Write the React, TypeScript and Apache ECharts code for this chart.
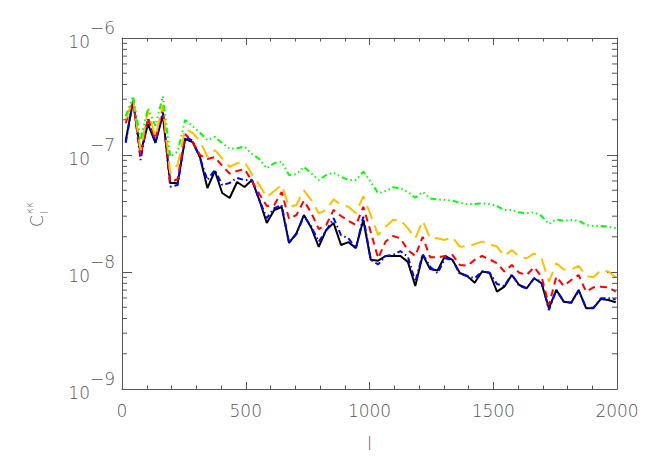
import React, { useEffect, useRef } from "react";
import * as echarts from "echarts";

// multipole bin centres
const ells = [
  15, 45, 75, 105, 135, 165, 195, 225, 255, 285, 315, 345, 375, 405, 435, 465, 495,
  525, 555, 585, 615, 645, 675, 705, 735, 765, 795, 825, 855, 885, 915, 945, 975,
  1005, 1035, 1065, 1095, 1125, 1155, 1185, 1215, 1245, 1275, 1305, 1335, 1365, 1395,
  1425, 1455, 1485, 1515, 1545, 1575, 1605, 1635, 1665, 1695, 1725, 1755, 1785, 1815,
  1845, 1875, 1905, 1935, 1965, 1995,
];

const blackSolid = [
  1.32e-7, 2.91e-7, 1.04e-7, 1.84e-7, 1.27e-7, 2.2e-7, 5.77e-8, 5.77e-8, 1.37e-7, 1.29e-7,
  9.61e-8, 5.22e-8, 7.3e-8, 4.73e-8, 4.29e-8, 5.88e-8, 5.33e-8, 6.11e-8, 4.12e-8, 2.62e-8,
  3.39e-8, 3.59e-8, 1.77e-8, 2.15e-8, 3.07e-8, 2.38e-8, 1.64e-8, 2.29e-8, 2.62e-8, 1.7e-8,
  1.8e-8, 1.6e-8, 2.78e-8, 1.27e-8, 1.25e-8, 1.37e-8, 1.37e-8, 1.37e-8, 1.22e-8, 7.59e-9,
  1.4e-8, 1.06e-8, 1.03e-8, 1.37e-8, 1.27e-8, 9.8e-9, 9.24e-9, 8.1e-9, 1.01e-8, 9.86e-9,
  6.79e-9, 7.49e-9, 9.43e-9, 7.74e-9, 7.26e-9, 8.84e-9, 8.01e-9, 4.9e-9, 7.02e-9, 5.58e-9,
  5.47e-9, 7.02e-9, 4.9e-9, 4.9e-9, 5.88e-9, 5.77e-9, 5.51e-9,
];

const blueDashDot = [
  1.27e-7, 2.95e-7, 9.06e-8, 2.07e-7, 1.27e-7, 2.33e-7, 5.36e-8, 5.54e-8, 1.43e-7, 1.33e-7,
  9.43e-8, 6.11e-8, 7.44e-8, 5.54e-8, 5.77e-8, 6.36e-8, 6.11e-8, 6.11e-8, 4.12e-8, 2.89e-8,
  3.52e-8, 3.74e-8, 1.78e-8, 2.11e-8, 3.01e-8, 2.44e-8, 1.82e-8, 2.25e-8, 2.88e-8, 2.07e-8,
  1.94e-8, 1.59e-8, 2.97e-8, 1.27e-8, 1.16e-8, 1.37e-8, 1.4e-8, 1.51e-8, 1.35e-8, 8.26e-9,
  1.42e-8, 1.11e-8, 9.75e-9, 1.31e-8, 1.27e-8, 9.61e-9, 9.24e-9, 8.84e-9, 1.01e-8, 9.86e-9,
  7.9e-9, 7.59e-9, 9.56e-9, 7.59e-9, 7.26e-9, 8.84e-9, 8.26e-9, 4.73e-9, 7.02e-9, 5.58e-9,
  5.47e-9, 6.88e-9, 4.95e-9, 4.95e-9, 5.96e-9, 5.96e-9, 5.85e-9,
];

const redDashed = [
  1.87e-7, 2.91e-7, 9.8e-8, 2.09e-7, 1.37e-7, 2.52e-7, 5.83e-8, 6.23e-8, 1.51e-7, 1.3e-7,
  1.0e-7, 9.24e-8, 9.61e-8, 8.05e-8, 6.95e-8, 7.3e-8, 7.59e-8, 5.99e-8, 4.64e-8, 3.66e-8,
  3.74e-8, 4.83e-8, 2.84e-8, 3.07e-8, 4.07e-8, 3.19e-8, 2.33e-8, 2.52e-8, 3.39e-8, 3.01e-8,
  2.74e-8, 2.52e-8, 3.61e-8, 2.2e-8, 1.31e-8, 1.82e-8, 2.03e-8, 1.94e-8, 1.54e-8, 1.37e-8,
  2.0e-8, 1.34e-8, 1.33e-8, 1.37e-8, 1.4e-8, 1.15e-8, 1.13e-8, 1.27e-8, 1.37e-8, 1.28e-8,
  1.19e-8, 1.01e-8, 1.15e-8, 9.86e-9, 9.43e-9, 1.1e-8, 9.12e-9, 5.22e-9, 9.12e-9, 7.59e-9,
  8.54e-9, 9.43e-9, 6.79e-9, 7.4e-9, 7.49e-9, 7.4e-9, 6.79e-9,
];

const orangeLongDash = [
  1.99e-7, 3.01e-7, 1.1e-7, 2.41e-7, 1.43e-7, 2.68e-7, 6.98e-8, 8.28e-8, 1.66e-7, 1.55e-7,
  1.32e-7, 9.67e-8, 1.1e-7, 9.37e-8, 7.9e-8, 8.5e-8, 8.71e-8, 6.88e-8, 5.54e-8, 4.38e-8,
  4.92e-8, 5.54e-8, 3.61e-8, 3.74e-8, 4.99e-8, 4.12e-8, 3.18e-8, 3.39e-8, 4.18e-8, 3.74e-8,
  3.61e-8, 3.18e-8, 4.46e-8, 3.07e-8, 2.07e-8, 2.44e-8, 2.78e-8, 2.78e-8, 2.36e-8, 1.94e-8,
  2.74e-8, 1.94e-8, 1.94e-8, 1.88e-8, 1.98e-8, 1.65e-8, 1.65e-8, 1.73e-8, 1.82e-8, 1.73e-8,
  1.65e-8, 1.37e-8, 1.54e-8, 1.35e-8, 1.31e-8, 1.44e-8, 1.31e-8, 8.26e-9, 1.19e-8, 1.05e-8,
  1.05e-8, 1.13e-8, 9.24e-9, 9.01e-9, 1.04e-8, 1.01e-8, 9.01e-9,
];

const greenDashDots = [
  2.15e-7, 3.18e-7, 1.34e-7, 2.51e-7, 1.77e-7, 3.18e-7, 9.67e-8, 1.07e-7, 1.99e-7, 1.77e-7,
  1.55e-7, 1.34e-7, 1.43e-7, 1.26e-7, 1.13e-7, 1.14e-7, 1.18e-7, 1.02e-7, 9.24e-8, 7.69e-8,
  8.5e-8, 8.76e-8, 6.75e-8, 6.85e-8, 7.9e-8, 6.98e-8, 6.11e-8, 6.75e-8, 7.06e-8, 6.52e-8,
  6.11e-8, 6.11e-8, 7.2e-8, 5.91e-8, 4.71e-8, 4.92e-8, 5.3e-8, 5.19e-8, 4.83e-8, 4.32e-8,
  4.83e-8, 4.26e-8, 4.18e-8, 4.12e-8, 4.07e-8, 3.91e-8, 3.81e-8, 3.81e-8, 3.87e-8, 3.81e-8,
  3.66e-8, 3.39e-8, 3.39e-8, 3.24e-8, 3.18e-8, 3.24e-8, 3.01e-8, 2.57e-8, 2.82e-8, 2.74e-8,
  2.78e-8, 2.74e-8, 2.52e-8, 2.47e-8, 2.47e-8, 2.44e-8, 2.36e-8,
];

const xMin = 0;
const xMax = 2000;
const yMin = 1e-9;
const yMax = 1e-6;
const decades = [-9, -8, -7];
const minorMantissas = [2, 3, 4, 5, 6, 7, 8, 9];

const AXIS_COLOR = "#555";
const TEXT_COLOR = "#555";
const FONT = "DejaVu Sans";

export default function App() {
  const ref = useRef<HTMLDivElement>(null);

  useEffect(() => {
    if (!ref.current) return;
    const chart = echarts.init(ref.current, undefined, { renderer: "svg" });

    const minorY: number[] = [];
    decades.forEach((e) => minorMantissas.forEach((m) => minorY.push(m * Math.pow(10, e))));

    const pair = (arr: number[]) => arr.map((v, i) => [ells[i], v]);

    const lineSeries = (name: string, data: number[], color: string, dash: any) => ({
      name,
      type: "line",
      data: pair(data),
      showSymbol: false,
      symbol: "none",
      smooth: false,
      lineStyle: { color, width: 2, type: dash },
      silent: true,
      z: 3,
    });

    const xTickCommon = {
      type: "value",
      min: xMin,
      max: xMax,
      interval: 500,
      axisLine: { show: true, lineStyle: { color: AXIS_COLOR, width: 1 } },
      axisTick: { show: true, inside: true, length: 7, lineStyle: { color: AXIS_COLOR } },
      minorTick: { show: true, splitNumber: 5, length: 3.5, lineStyle: { color: AXIS_COLOR } },
      splitLine: { show: false },
      minorSplitLine: { show: false },
    };

    const yCommon = {
      type: "log",
      logBase: 10,
      min: yMin,
      max: yMax,
      axisLine: { show: true, onZero: false, lineStyle: { color: AXIS_COLOR, width: 1 } },
      axisTick: { show: true, inside: true, length: 10, lineStyle: { color: AXIS_COLOR } },
      splitLine: { show: false },
    };

    const textStyleBase = {
      fontFamily: FONT,
      fontWeight: 200,
      color: TEXT_COLOR,
    };

    const option: any = {
      animation: false,
      backgroundColor: "#ffffff",
      grid: {
        left: 122,
        right: 37,
        top: 38,
        bottom: 78,
        containLabel: false,
        outerBoundsMode: "none",
      },
      xAxis: [
        {
          ...xTickCommon,
          position: "bottom",
          name: "l",
          nameLocation: "middle",
          nameGap: 46,
          nameTextStyle: { ...textStyleBase, fontSize: 17 },
          axisLabel: {
            show: true,
            margin: 13,
            ...textStyleBase,
            fontSize: 17,
            formatter: (value: number) => String(value),
          },
        },
        {
          ...xTickCommon,
          position: "top",
          axisLabel: { show: false },
        },
      ],
      yAxis: [
        {
          ...yCommon,
          position: "left",
          axisLabel: {
            show: true,
            margin: 7,
            padding: [28, 0, 0, 0],
            formatter: (value: number) => {
              const e = Math.round(Math.log10(value));
              return `{b|10}{s|\u2212${Math.abs(e)}}`;
            },
            rich: {
              b: {
                ...textStyleBase,
                fontSize: 17,
                lineHeight: 17,
                padding: [0, 0, 10, 0],
                verticalAlign: "bottom",
              },
              s: {
                ...textStyleBase,
                fontSize: 17,
                lineHeight: 17,
                padding: [0, 0, 24, 0],
                verticalAlign: "bottom",
              },
            },
          },
        },
        {
          ...yCommon,
          position: "right",
          axisLabel: { show: false },
        },
      ],
      series: [
        {
          type: "custom",
          name: "minorTicksY",
          xAxisIndex: 0,
          yAxisIndex: 0,
          silent: true,
          clip: false,
          z: 5,
          data: minorY.map((v) => [xMin, v]),
          renderItem: (params: any, api: any) => {
            const v = api.value(1);
            const pl = api.coord([xMin, v]);
            const pr = api.coord([xMax, v]);
            const st = { stroke: AXIS_COLOR, lineWidth: 1 };
            return {
              type: "group",
              children: [
                { type: "line", shape: { x1: pl[0], y1: pl[1], x2: pl[0] + 5, y2: pl[1] }, style: st },
                { type: "line", shape: { x1: pr[0] - 5, y1: pr[1], x2: pr[0], y2: pr[1] }, style: st },
              ],
            };
          },
        },
        lineSeries("black", blackSolid, "#000000", "solid"),
        lineSeries("blue", blueDashDot, "#0000ff", [6, 3, 1.5, 3]),
        lineSeries("red", redDashed, "#ff0000", [7, 5]),
        lineSeries("orange", orangeLongDash, "#ffbf00", [14, 7]),
        lineSeries("green", greenDashDots, "#00ff00", [6, 3, 1.5, 3, 1.5, 3, 1.5, 3]),
      ],
      graphic: [
        {
          type: "group",
          x: 37,
          y: 221,
          rotation: Math.PI / 2,
          silent: true,
          children: [
            {
              type: "text",
              x: 0,
              y: 0,
              style: {
                text: "C",
                font: `200 17px "${FONT}"`,
                fill: TEXT_COLOR,
                textAlign: "center",
                textVerticalAlign: "middle",
              },
            },
            {
              type: "text",
              x: 7,
              y: -8,
              style: {
                text: "\u03ba\u03ba",
                font: `200 10px "${FONT}"`,
                fill: TEXT_COLOR,
                textAlign: "left",
                textVerticalAlign: "middle",
              },
            },
            {
              type: "text",
              x: 7,
              y: 7,
              style: {
                text: "l",
                font: `200 10px "${FONT}"`,
                fill: TEXT_COLOR,
                textAlign: "left",
                textVerticalAlign: "middle",
              },
            },
          ],
        },
      ],
    };

    chart.setOption(option);
    return () => chart.dispose();
  }, []);

  return (
    <div
      ref={ref}
      style={{ position: "absolute", left: 0, top: 0, width: 654, height: 467, background: "#fff" }}
    />
  );
}
